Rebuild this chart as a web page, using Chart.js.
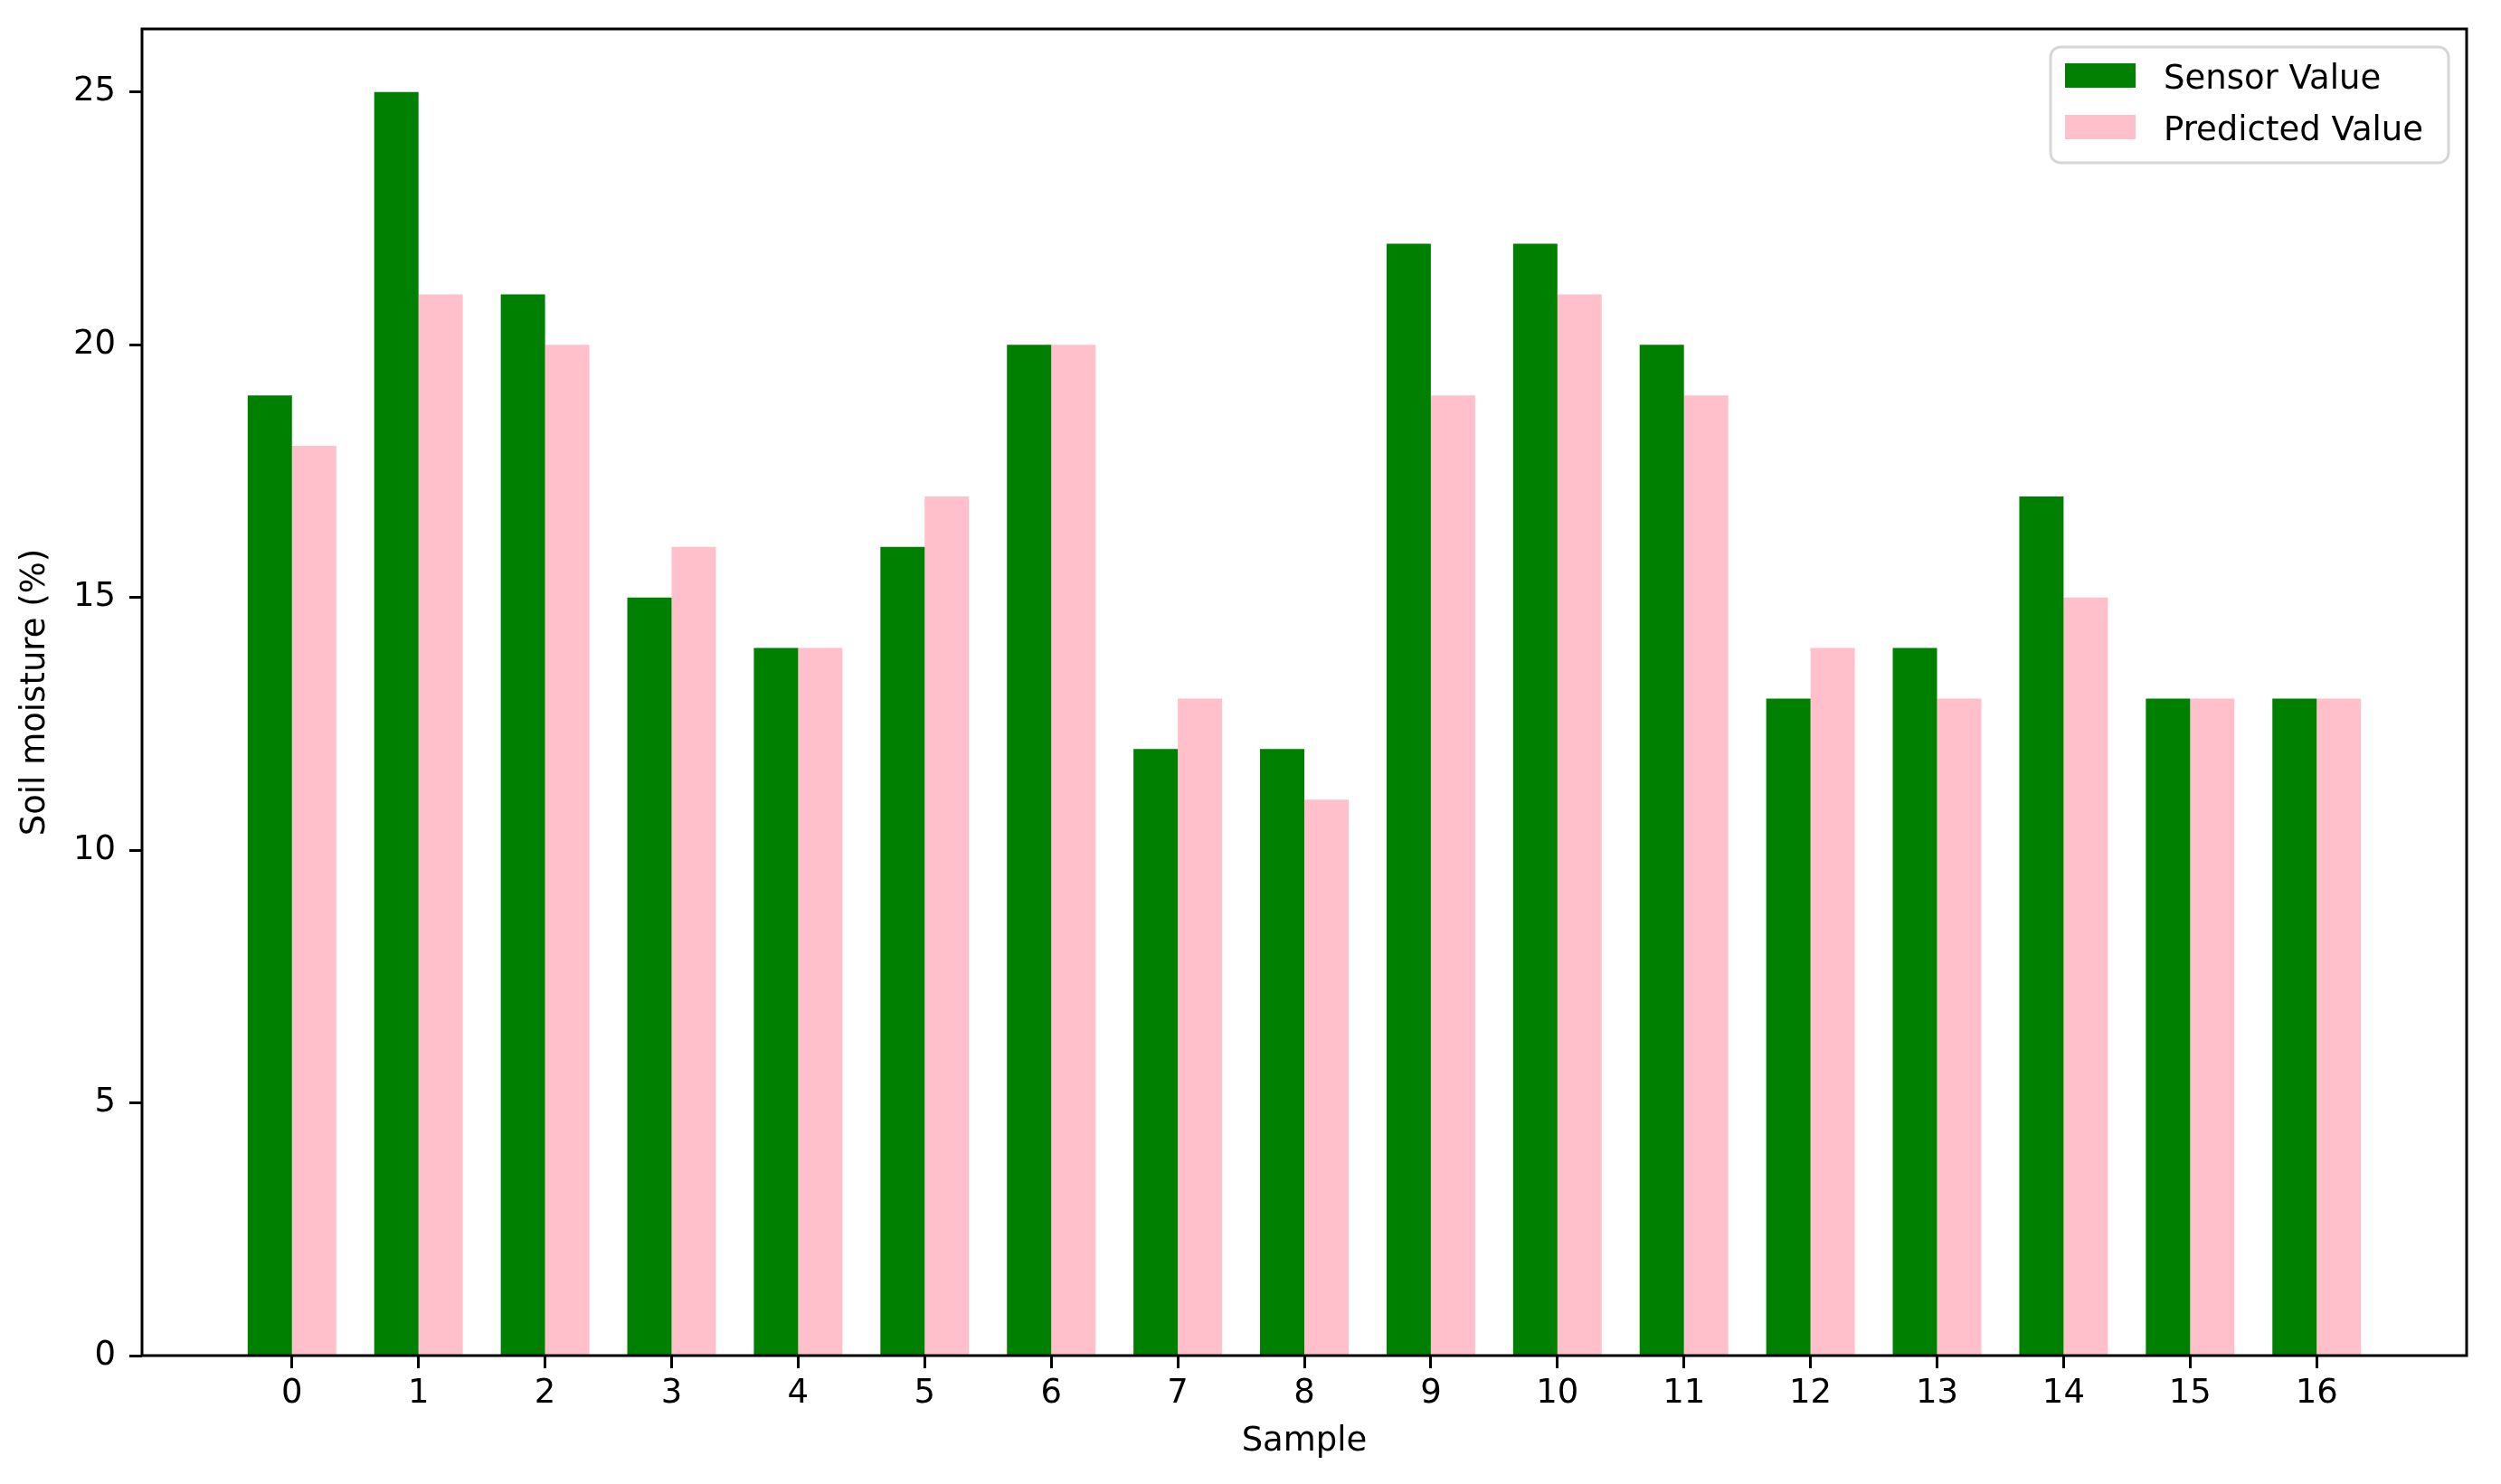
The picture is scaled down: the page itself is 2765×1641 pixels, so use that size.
<!DOCTYPE html>
<html><head><meta charset="utf-8">
<script src="https://cdn.jsdelivr.net/npm/chart.js@4/dist/chart.umd.min.js"></script>
<style>html,body{margin:0;padding:0;background:#fff;overflow:hidden}#wrap{width:2765px;height:1641px}</style>
</head><body><div id="wrap"><canvas id="c" width="2765" height="1641"></canvas></div>
<script>
const samples = [0,1,2,3,4,5,6,7,8,9,10,11,12,13,14,15,16];
const sensorValues = [19,25,21,15,14,16,20,12,12,22,22,20,13,14,17,13,13];
const predictedValues = [18,21,20,16,14,17,20,13,11,19,21,19,14,13,15,13,13];
const yTickValues = [0,5,10,15,20,25];
const seriesLabels = ['Sensor Value','Predicted Value'];
const seriesColors = ['#008000','#ffc0cb'];
const xTitle = 'Sample';
const yTitle = 'Soil moisture (%)';
const xRange = [-1.185, 17.185];
const yRange = [0, 26.25];

const FONT = '"DejaVu Sans"';
Chart.defaults.font.family = FONT;
Chart.defaults.font.size = 37;
Chart.defaults.color = '#000';

const frameAndLegend = {
  id: 'frameAndLegend',
  afterDatasetsDraw(chart) {
    const {ctx, chartArea: a} = chart;
    ctx.save();
    ctx.strokeStyle = '#000';
    ctx.lineWidth = 3;
    ctx.strokeRect(a.left, a.top, a.right - a.left, a.bottom - a.top);
    const bw = 440, bh = 128;
    const bx = a.right - 20 - bw, by = a.top + 20;
    ctx.beginPath();
    ctx.roundRect(bx, by, bw, bh, 11);
    ctx.fillStyle = 'rgba(255,255,255,0.8)';
    ctx.fill();
    ctx.strokeStyle = '#d6d6d6';
    ctx.lineWidth = 3;
    ctx.stroke();
    ctx.font = '37px ' + FONT;
    ctx.textBaseline = 'alphabetic';
    ctx.textAlign = 'left';
    chart.data.datasets.forEach((ds, i) => {
      ctx.fillStyle = ds.backgroundColor;
      ctx.fillRect(bx + 16, by + 18 + i * 57, 78, 27);
      ctx.fillStyle = '#000';
      ctx.fillText(ds.label, bx + 125, by + 46 + i * 57);
    });
    ctx.restore();
  }
};

new Chart(document.getElementById('c'), {
  type: 'bar',
  data: {
    datasets: [
      { label: seriesLabels[0], backgroundColor: seriesColors[0], borderWidth: 0,
        data: sensorValues.map((v, i) => ({x: samples[i], y: v})) },
      { label: seriesLabels[1], backgroundColor: seriesColors[1], borderWidth: 0,
        data: predictedValues.map((v, i) => ({x: samples[i], y: v})) }
    ]
  },
  options: {
    responsive: false,
    animation: false,
    devicePixelRatio: 1,
    layout: { padding: { top: 32, right: 38, left: 0, bottom: 0 } },
    datasets: { bar: { categoryPercentage: 0.7, barPercentage: 1.0 } },
    plugins: { legend: { display: false }, tooltip: { enabled: false } },
    scales: {
      x: {
        type: 'linear', min: xRange[0], max: xRange[1], offset: false,
        grid: { offset: false, drawOnChartArea: false, drawTicks: true, tickLength: 14, tickWidth: 3, tickColor: '#000' },
        border: { display: false },
        ticks: { autoSkip: false, maxRotation: 0, padding: 6, includeBounds: false, color: '#000', font: { size: 37 } },
        afterBuildTicks: s => { s.ticks = samples.map(v => ({ value: v })); },
        afterFit: s => { s.height = 142; s.paddingLeft = 0; s.paddingRight = 0; },
        title: { display: true, text: xTitle, color: '#000', font: { size: 37 }, padding: { top: 0, bottom: 24 } }
      },
      y: {
        type: 'linear', min: yRange[0], max: yRange[1],
        grid: { drawOnChartArea: false, drawTicks: true, tickLength: 14, tickWidth: 3, tickColor: '#000' },
        border: { display: false },
        ticks: { padding: 15, includeBounds: false, color: '#000', font: { size: 37 } },
        afterBuildTicks: s => { s.ticks = yTickValues.map(v => ({ value: v })); },
        afterFit: s => { s.width = 157; s.paddingTop = 0; s.paddingBottom = 0; },
        title: { display: true, text: yTitle, color: '#000', font: { size: 37 }, padding: { top: 17, bottom: 0 } }
      }
    }
  },
  plugins: [frameAndLegend]
});
</script>
</body></html>
